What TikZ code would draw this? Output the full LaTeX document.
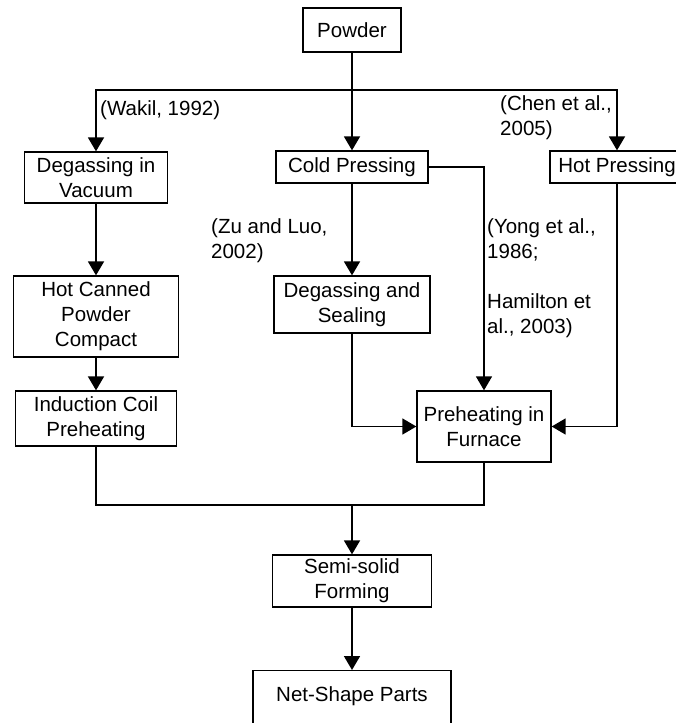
\documentclass[tikz,border=0pt]{standalone}
\usepackage{fontspec}
\setmainfont{Liberation Sans}
\usetikzlibrary{arrows.meta}
\tikzset{pbox/.style={draw=black,line width=1.3pt,inner sep=0,align=center},
  wedge/.style={draw=black,line width=#1}
}

\begin{document}
\begin{tikzpicture}[x=1pt,y=-1pt,font=\fontsize{20.5}{25}\selectfont]
  \useasboundingbox (0,0) rectangle (676,723);
  \begin{scope}[every node/.style={pbox}]
    \node[minimum width=98pt,minimum height=44pt] (P) at (352,30) {Powder};
    \node[minimum width=143pt,minimum height=51pt] (A1) at (96,177.5) {Degassing in\\Vacuum};
    \node[minimum width=165pt,minimum height=81pt] (A2) at (96,316.5) {Hot Canned\\Powder\\Compact};
    \node[minimum width=161pt,minimum height=55pt] (A3) at (96,418.5) {Induction Coil\\Preheating};
    \node[minimum width=152pt,minimum height=32pt] (B1) at (352,167) {Cold Pressing};
    \node[minimum width=156pt,minimum height=57pt] (B2) at (352,304.5) {Degassing and\\Sealing};
    \node[minimum width=134pt,minimum height=32pt] (C1) at (617,167) {Hot Pressing};
    \node[minimum width=134pt,minimum height=71pt] (D) at (484,426.5) {Preheating in\\Furnace};
    \node[minimum width=159pt,minimum height=52pt] (E) at (352,581) {Semi-solid\\Forming};
    \node[minimum width=198pt,text height=31pt,text depth=30pt,anchor=north] (F) at (352,670) {Net-Shape Parts};
  \end{scope}
  % references
  \begin{scope}[every node/.style={inner sep=0,anchor=west,align=left}]
    \node (R1) at (100,110) {(Wakil, 1992)};
    \node (R2) at (500,118) {(Chen et al.,\\2005)};
    \node (R3) at (211,240.5) {(Zu and Luo,\\2002)};
    \node (R4) at (487,278) {(Yong et al.,\\1986;\\[25pt]Hamilton et\\al., 2003)};
  \end{scope}
  \coordinate (S) at (352,90);
  \coordinate (J) at (352,505);
  % flow lines:
  \begin{scope}[>={Triangle[length=14pt,width=16pt]},
                every edge/.style={draw=black,line width=1.8pt}]
    \path [->] (P) edge (B1);
    \draw [->,wedge=1.8pt] (S) -| (A1);
    \draw [->,wedge=1.8pt] (S) -| (C1);
    \path [->] (A1) edge (A2);
    \path [->] (A2) edge (A3);
    \path [->] (B1) edge (B2);
    \draw [->,wedge=1.5pt] (B1) -| (D);
    \draw [->,wedge=1.5pt] (B2) |- (D);
    \draw [->,wedge=1.5pt] (C1) |- (D);
    \draw [wedge=1.5pt] (A3) |- (J);
    \draw [wedge=1.5pt] (D) |- (J);
    \path [->] (J) edge (E);
    \path [->] (E) edge (F);
  \end{scope}
\end{tikzpicture}
\end{document}
